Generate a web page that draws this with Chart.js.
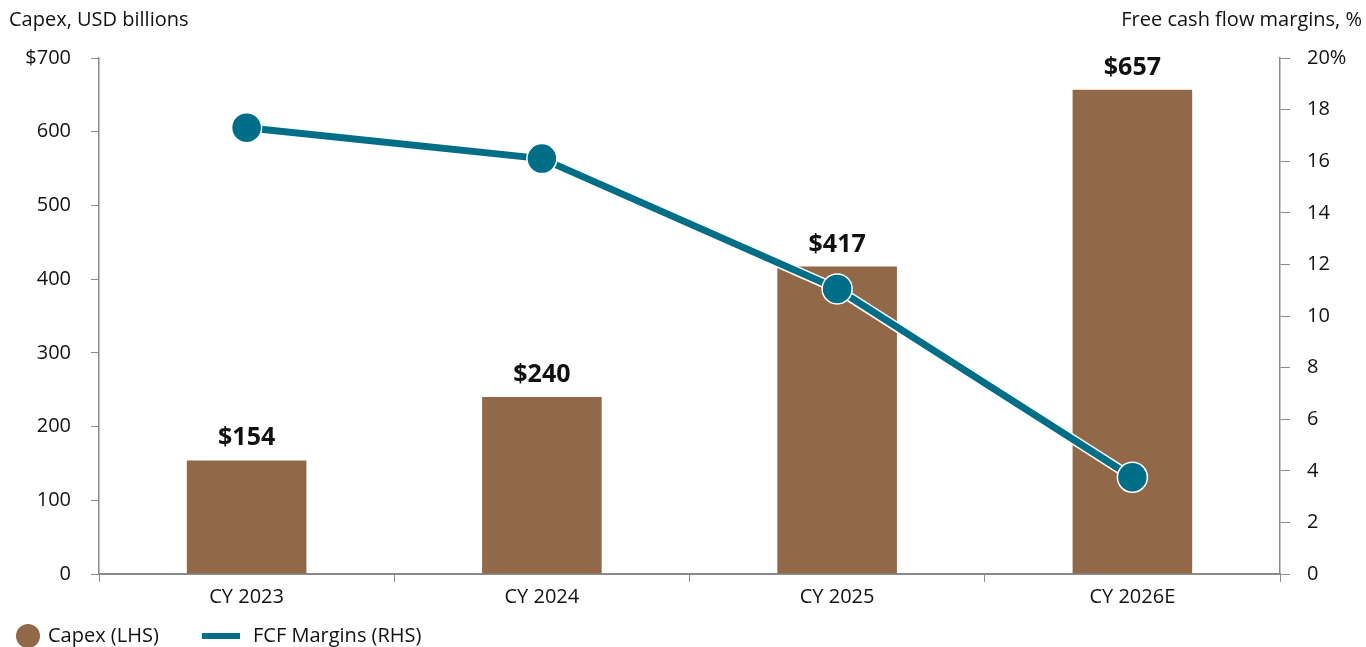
<!DOCTYPE html>
<html>
<head>
<meta charset="utf-8">
<script src="https://cdn.jsdelivr.net/npm/chart.js@4"></script>
<style>
  html, body { margin: 0; padding: 0; background: #fff; }
  #wrap { width: 1366px; height: 647px; position: relative; }
</style>
</head>
<body>
<div id="wrap"><canvas id="capexChart"></canvas></div>
<script>
const categories = ["CY 2023", "CY 2024", "CY 2025", "CY 2026E"];
const capex = [154, 240, 417, 657];
const fcfMargins = [17.3, 16.1, 11.05, 3.75];
const leftTicks = [0, 100, 200, 300, 400, 500, 600, 700];
const rightTicks = [0, 2, 4, 6, 8, 10, 12, 14, 16, 18, 20];

const FONT = "'Open Sans', 'Noto Sans', sans-serif";
const BROWN = "#916848";
const TEAL = "#006e87";
const AXIS = "#8a8a8a";

// bar value labels, axis titles and the legend row
const extrasPlugin = {
    id: "extras",
    afterDatasetsDraw(chart) {
        const ctx = chart.ctx;
        const meta = chart.getDatasetMeta(2);
        ctx.save();
        ctx.fillStyle = "#111";
        ctx.font = "bold 25px " + FONT;
        ctx.textAlign = "center";
        ctx.textBaseline = "alphabetic";
        meta.data.forEach((bar, i) => {
            ctx.fillText("$" + capex[i], bar.x, bar.y - 15);
        });
        ctx.restore();
    },
    afterDraw(chart) {
        const ctx = chart.ctx;
        ctx.save();
        ctx.fillStyle = "#111";
        ctx.font = "20px " + FONT;
        ctx.textBaseline = "middle";
        ctx.textAlign = "left";
        ctx.fillText("Capex, USD billions", 9, 20);
        ctx.textAlign = "right";
        ctx.fillText("Free cash flow margins, %", 1362, 20);

        // legend
        const ly = 636;
        ctx.textAlign = "left";
        ctx.fillStyle = BROWN;
        ctx.beginPath();
        ctx.arc(28, ly, 12, 0, Math.PI * 2);
        ctx.fill();
        ctx.fillStyle = "#111";
        ctx.fillText("Capex (LHS)", 48, ly);
        ctx.strokeStyle = TEAL;
        ctx.lineWidth = 6;
        ctx.beginPath();
        ctx.moveTo(202, ly);
        ctx.lineTo(240, ly);
        ctx.stroke();
        ctx.fillText("FCF Margins (RHS)", 253, ly);
        ctx.restore();
    }
};

bootChart();

function bootChart(){
    const cv = document.getElementById("capexChart");
    new Chart(cv.getContext("2d"), {
        data: {
            labels: categories,
            datasets: [
                { type: "line", label: "FCF Margins (RHS)", data: fcfMargins, yAxisID: "yR",
                  borderColor: TEAL, borderWidth: 7, backgroundColor: TEAL,
                  pointRadius: 15, pointBackgroundColor: TEAL, pointBorderColor: "#fff", pointBorderWidth: 1.5,
                  order: 0 },
                // thin white halo under the line where it crosses the bars
                { type: "line", label: "halo", data: fcfMargins, yAxisID: "yR",
                  borderColor: "#fff", borderWidth: 10, pointRadius: 0, order: 1 },
                { type: "bar", label: "Capex (LHS)", data: capex, yAxisID: "yL",
                  backgroundColor: BROWN, barPercentage: 0.405, categoryPercentage: 1, order: 2 }
            ]
        },
        options: {
            responsive: true, maintainAspectRatio: false, animation: false,
            layout: { padding: { top: 58, left: 0, right: 0, bottom: 33 } },
            plugins: {
                tooltip: { enabled: false },
                legend: { display: false }
            },
            scales: {
                x: {
                    offset: true,
                    grid: { display: true, drawOnChartArea: false, drawTicks: true, tickLength: 8, color: AXIS, offset: true },
                    border: { display: true, color: AXIS, width: 2 },
                    ticks: { font: { family: FONT, size: 20 }, color: "#111", padding: 3 },
                    afterFit(s) { s.height = 40; }
                },
                yL: {
                    position: "left", min: 0, max: 700,
                    afterBuildTicks(s) { s.ticks = leftTicks.map(v => ({ value: v })); },
                    grid: { display: true, drawOnChartArea: false, drawTicks: true, tickLength: 8, color: AXIS },
                    border: { display: true, color: AXIS, width: 1.5 },
                    ticks: { font: { family: FONT, size: 20 }, color: "#111", padding: 20,
                             callback: v => v === 700 ? "$700" : v },
                    afterFit(s) { s.width = 99; }
                },
                yR: {
                    position: "right", min: 0, max: 20,
                    afterBuildTicks(s) { s.ticks = rightTicks.map(v => ({ value: v })); },
                    grid: { display: true, drawOnChartArea: false, drawTicks: true, tickLength: 10, color: AXIS },
                    border: { display: true, color: AXIS, width: 1.5 },
                    ticks: { font: { family: FONT, size: 20 }, color: "#111", padding: 17,
                             callback: v => v === 20 ? "20%" : v },
                    afterFit(s) { s.width = 86; }
                }
            }
        },
        plugins: [extrasPlugin]
    });
}
</script>
</body>
</html>
